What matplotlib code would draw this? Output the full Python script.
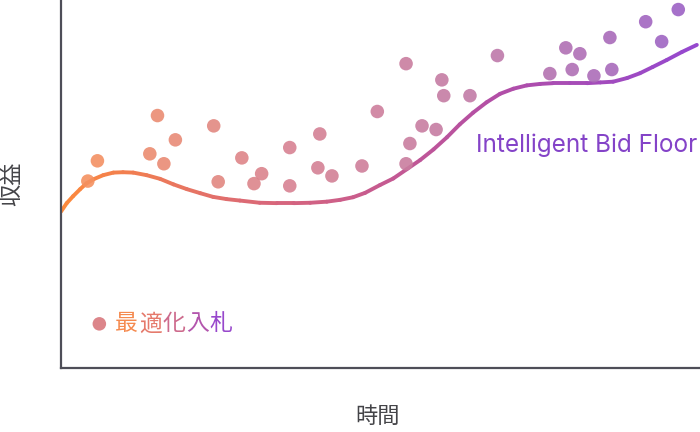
import matplotlib
matplotlib.use("Agg")
import matplotlib.pyplot as plt
import numpy as np
from matplotlib.collections import LineCollection
from matplotlib.colors import LinearSegmentedColormap

plt.rcParams["font.family"] = ["Noto Sans CJK JP", "DejaVu Sans"]

# scatter: optimised bidding (time, revenue)
bid_x = [4.2, 5.7, 13.9, 15.1, 16.1, 17.9, 23.9, 24.6, 28.3, 30.2, 31.4, 35.8, 35.8,
         40.2, 40.5, 42.4, 47.1, 49.5, 54.0, 54.0, 54.6, 56.5, 58.7, 59.6, 59.9, 64.0,
         68.3, 76.5, 79.0, 80.0, 81.2, 83.4, 85.9, 86.2, 91.5, 94.0, 96.6]
bid_y = [50.8, 56.3, 58.2, 68.6, 55.5, 62.0, 65.8, 50.6, 57.1, 50.1, 52.8, 59.9, 49.5,
         54.4, 63.6, 52.2, 54.9, 69.7, 55.5, 82.7, 61.0, 65.8, 64.8, 78.3, 74.0, 74.0,
         84.9, 80.0, 87.0, 81.1, 85.4, 79.4, 89.8, 81.1, 94.1, 88.7, 97.4]

# curve: intelligent bid floor
floor_x = [0.0, 0.9, 1.9, 3.0, 4.0, 5.1, 6.6, 8.2, 9.7, 11.3, 13.4, 15.5, 17.6, 19.7,
           21.8, 23.8, 25.9, 28.0, 31.1, 33.8, 36.4, 39.0, 41.6, 43.7, 45.7, 47.6,
           49.9, 52.0, 54.1, 56.2, 58.3, 60.4, 62.4, 64.5, 66.6, 68.7, 70.8, 72.9,
           75.0, 77.0, 79.7, 82.3, 84.4, 86.4, 88.6, 90.6, 92.6, 94.8, 97.2, 99.5]
floor_y = [42.5, 44.8, 46.7, 48.6, 50.2, 51.3, 52.4, 53.1, 53.2, 53.1, 52.4, 51.4, 49.9,
           48.6, 47.5, 46.5, 45.9, 45.5, 44.9, 44.8, 44.8, 44.9, 45.2, 45.7, 46.4, 47.6,
           49.7, 51.5, 54.0, 56.5, 59.4, 62.7, 66.2, 69.4, 72.2, 74.5, 75.9, 76.8,
           77.2, 77.4, 77.4, 77.4, 77.6, 77.8, 78.8, 80.1, 81.8, 83.7, 85.9, 87.8]

legend_label = "最適化入札"
curve_label = "Intelligent Bid Floor"

line_cmap = LinearSegmentedColormap.from_list("line", ["#fd8a3c", "#d8667c", "#b44fa4", "#9448d0"])
dot_cmap = LinearSegmentedColormap.from_list("dots", ["#f8935a", "#d98390", "#c07aa8", "#9860c8"])

fig = plt.figure(figsize=(7.0, 4.32), dpi=100)
ax = fig.add_axes([61 / 700, 64 / 432, 639 / 700, 368 / 432])
ax.set_xlim(0, 100)
ax.set_ylim(0, 100)

ax.scatter(bid_x, bid_y, s=95, c=dot_cmap(np.array(bid_x) / 100), alpha=0.9,
           edgecolors="none", zorder=3)

pts = np.column_stack([floor_x, floor_y]).reshape(-1, 1, 2)
segs = np.concatenate([pts[:-1], pts[1:]], axis=1)
mid = (np.array(floor_x[:-1]) + np.array(floor_x[1:])) / 200
lc = LineCollection(segs, colors=line_cmap(mid), linewidths=2.8, capstyle="round",
                    joinstyle="round", zorder=2)
ax.add_collection(lc)

ax.text(99.6, 60.5, curve_label, color="#8443c8", fontsize=17.5, ha="right", va="center",
        family=["Inter", "DejaVu Sans"])

# legend: gradient dot + per-character gradient label
ax.scatter([6.0], [12.0], s=95, c=[dot_cmap(0.3)], edgecolors="none", zorder=3)
label_cols = ["#f58a4f", "#e57a6c", "#cd6a8c", "#b356ad", "#9848cc"]
for i, (ch, col) in enumerate(zip(legend_label, label_cols)):
    ax.annotate(ch, xy=(8.5, 12.0), xytext=(i * 17.0, 0), textcoords="offset points",
                color=col, fontsize=16.5, ha="left", va="center")

for s in ("top", "right"):
    ax.spines[s].set_visible(False)
for s in ("left", "bottom"):
    ax.spines[s].set_color("#4e4e58")
    ax.spines[s].set_linewidth(1.6)
ax.set_xticks([])
ax.set_yticks([])

fig.text(12 / 700, 1 - 184 / 432, "収益", rotation=90, fontsize=16, color="#444448",
         ha="center", va="center")
fig.text(378 / 700, 1 - 416 / 432, "時間", fontsize=16, color="#444448",
         ha="center", va="center")

fig.savefig("out.png", dpi=100)
